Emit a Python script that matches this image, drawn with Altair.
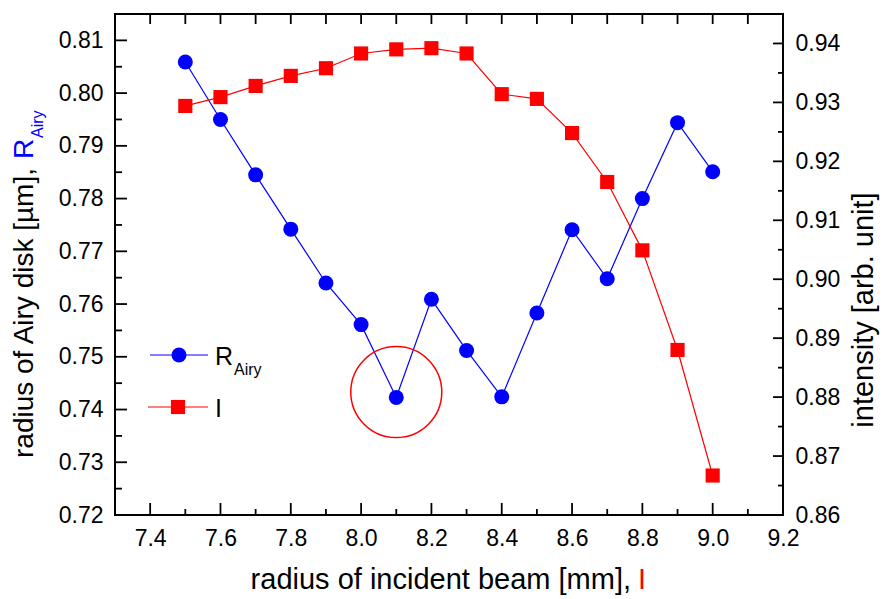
import altair as alt
import pandas as pd

# Measured series
beam_radius = [7.5, 7.6, 7.7, 7.8, 7.9, 8.0, 8.1, 8.2, 8.3, 8.4, 8.5, 8.6, 8.7, 8.8, 8.9, 9.0]
r_airy = [0.8059, 0.7950, 0.7845, 0.7742, 0.7640, 0.7561, 0.7423, 0.7609,
          0.7512, 0.7424, 0.7583, 0.7741, 0.7648, 0.7800, 0.7944, 0.7851]
intensity = [0.9294, 0.9309, 0.9328, 0.9345, 0.9358, 0.9383, 0.9390, 0.9392,
             0.9383, 0.9314, 0.9306, 0.9248, 0.9165, 0.9049, 0.8880, 0.8667]

# Highlighted minimum (circled point)
highlight_x = [8.1]
highlight_r = [0.7433]

# Tick values
x_labels = [7.4, 7.6, 7.8, 8.0, 8.2, 8.4, 8.6, 8.8, 9.0, 9.2]
x_major = [7.4, 7.6, 7.8, 8.0, 8.2, 8.4, 8.6, 8.8, 9.0]
x_minor = [7.5, 7.7, 7.9, 8.1, 8.3, 8.5, 8.7, 8.9, 9.1]
left_labels = [0.72, 0.73, 0.74, 0.75, 0.76, 0.77, 0.78, 0.79, 0.80, 0.81]
left_major = [0.73, 0.74, 0.75, 0.76, 0.77, 0.78, 0.79, 0.80, 0.81]
left_minor = [0.725, 0.735, 0.745, 0.755, 0.765, 0.775, 0.785, 0.795, 0.805]
right_labels = [0.86, 0.87, 0.88, 0.89, 0.90, 0.91, 0.92, 0.93, 0.94]
right_major = [0.87, 0.88, 0.89, 0.90, 0.91, 0.92, 0.93, 0.94]
right_minor = [0.865, 0.875, 0.885, 0.895, 0.905, 0.915, 0.925, 0.935]

FONT = "Liberation Sans"
BLUE = "#0000FF"
RED = "#FF0000"
W, H = 668, 501

df = pd.DataFrame({"x": beam_radius, "r": r_airy, "i": intensity})

x_scale = alt.Scale(domain=[7.3, 9.2], nice=False, zero=False)
yl_scale = alt.Scale(domain=[0.72, 0.815], nice=False, zero=False)
yr_scale = alt.Scale(domain=[0.86, 0.945], nice=False, zero=False)

common_axis = dict(ticks=False, domain=False, grid=False, labelFlush=False,
                   labelOverlap=False, labelFont=FONT, labelFontSize=23,
                   labelColor="black", labelPadding=12, title=None)
x_axis = alt.Axis(orient="bottom", values=x_labels, format=".1f", **common_axis)
yl_axis = alt.Axis(orient="left", values=left_labels, format=".2f", **common_axis)
yr_axis = alt.Axis(orient="right", values=right_labels, format=".2f", **common_axis)


def X(field):
    return alt.X(f"{field}:Q", scale=x_scale, axis=x_axis)


def YL(field):
    return alt.Y(f"{field}:Q", scale=yl_scale, axis=yl_axis)


def YR(field):
    return alt.Y(f"{field}:Q", scale=yr_scale, axis=yr_axis)


def text(s, px, py, size, color="black", angle=0, align="left"):
    return alt.Chart(pd.DataFrame({"s": [s]})).mark_text(
        font=FONT, fontSize=size, color=color, angle=angle, align=align,
        baseline="alphabetic"
    ).encode(x=alt.value(px), y=alt.value(py), text="s:N")


# --- left-axis group: R_Airy series, frame ticks, annotation, texts ---
r_line = alt.Chart(df).mark_line(color=BLUE, strokeWidth=1.2).encode(x=X("x"), y=YL("r"))
r_pts = alt.Chart(df).mark_point(shape="circle", filled=True, size=225, color=BLUE,
                                 opacity=1).encode(x=X("x"), y=YL("r"))

hl = alt.Chart(pd.DataFrame({"x": highlight_x, "r": highlight_r})).mark_point(
    shape="circle", filled=False, size=8281, color=RED, strokeWidth=1.5, opacity=1
).encode(x=X("x"), y=YL("r"))

tick_style = dict(color="black", strokeWidth=1.8)
bx_major = alt.Chart(pd.DataFrame({"v": x_major})).mark_rule(**tick_style).encode(
    x=X("v"), y=alt.value(H), y2=alt.value(H - 12))
bx_minor = alt.Chart(pd.DataFrame({"v": x_minor})).mark_rule(**tick_style).encode(
    x=X("v"), y=alt.value(H), y2=alt.value(H - 6))
tx_all = alt.Chart(pd.DataFrame({"v": x_major + x_minor})).mark_rule(**tick_style).encode(
    x=X("v"), y=alt.value(0), y2=alt.value(10))
yl_major = alt.Chart(pd.DataFrame({"v": left_major})).mark_rule(**tick_style).encode(
    y=YL("v"), x=alt.value(0), x2=alt.value(12))
yl_minor = alt.Chart(pd.DataFrame({"v": left_minor})).mark_rule(**tick_style).encode(
    y=YL("v"), x=alt.value(0), x2=alt.value(7))

# legend
leg_r_line = alt.Chart(pd.DataFrame({"s": ["R"]})).mark_rule(color=BLUE, strokeWidth=1.2).encode(
    x=alt.value(35), x2=alt.value(93), y=alt.value(341))
leg_r_pt = alt.Chart(pd.DataFrame({"s": ["R"]})).mark_point(
    shape="circle", filled=True, size=225, color=BLUE, opacity=1).encode(
    x=alt.value(64), y=alt.value(341))
leg_i_line = alt.Chart(pd.DataFrame({"s": ["I"]})).mark_rule(color=RED, strokeWidth=1.2).encode(
    x=alt.value(33), x2=alt.value(93), y=alt.value(393))
leg_i_pt = alt.Chart(pd.DataFrame({"s": ["I"]})).mark_point(
    shape="square", filled=True, size=200, color=RED, opacity=1).encode(
    x=alt.value(63), y=alt.value(393))

texts = [
    text("R", 100, 351, 25),
    text("Airy", 119, 361, 16),
    text("I", 100, 403, 25),
    # x title
    text("radius of incident beam [mm],", 516, 575, 29, align="right"),
    text("I", 523, 575, 29, color=RED),
    # left title
    text("radius of Airy disk [µm],", -82, 444, 28, angle=270),
    text("R", -82, 145, 28, color=BLUE, angle=270),
    text("Airy", -72, 124, 16, color=BLUE, angle=270),
    # right title
    text("intensity [arb. unit]", 758, 296, 29, angle=270, align="center"),
]

left_group = alt.layer(
    bx_major, bx_minor, tx_all, yl_major, yl_minor,
    r_line, r_pts, hl,
    leg_r_line, leg_r_pt, leg_i_line, leg_i_pt,
    *texts,
)

# --- right-axis group: intensity series and its ticks ---
i_line = alt.Chart(df).mark_line(color=RED, strokeWidth=1.2).encode(x=X("x"), y=YR("i"))
i_pts = alt.Chart(df).mark_point(shape="square", filled=True, size=200, color=RED,
                                 opacity=1).encode(x=X("x"), y=YR("i"))
yr_major = alt.Chart(pd.DataFrame({"v": right_major})).mark_rule(**tick_style).encode(
    y=YR("v"), x=alt.value(W), x2=alt.value(W - 10))
yr_minor = alt.Chart(pd.DataFrame({"v": right_minor})).mark_rule(**tick_style).encode(
    y=YR("v"), x=alt.value(W), x2=alt.value(W - 5))

right_group = alt.layer(yr_major, yr_minor, i_line, i_pts)

chart = alt.layer(left_group, right_group).resolve_scale(y="independent").properties(
    width=W, height=H,
    autosize=alt.AutoSizeParams(type="none"),
    padding={"left": 115, "top": 14, "right": 100, "bottom": 84},
    background="white",
).configure_view(stroke="black", strokeWidth=2)

chart.save("out.html", embed_options={"renderer": "svg", "actions": False})
